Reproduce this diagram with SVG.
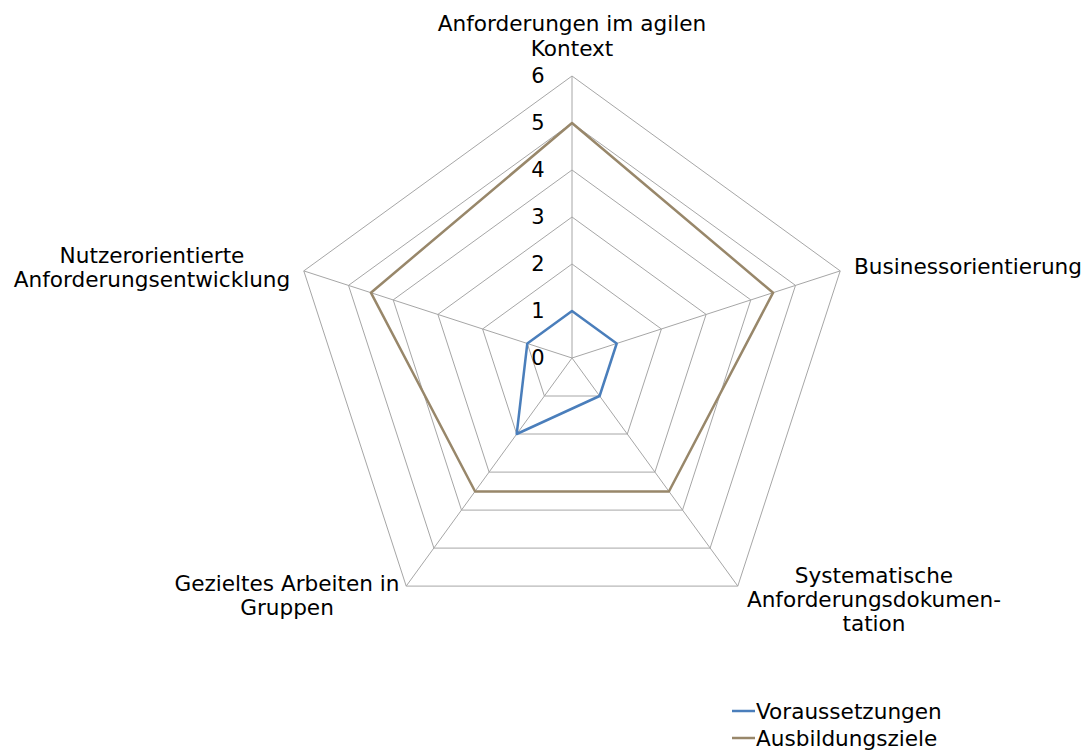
<svg xmlns="http://www.w3.org/2000/svg" width="1084" height="753" viewBox="0 0 1084 753">
<style>
text{font-family:"DejaVu Sans","Liberation Sans",sans-serif;font-size:21.6px;fill:#000}
.t{font-size:21px}
.grid{fill:none;stroke:#a6a6a6;stroke-width:1}
.s1{fill:none;stroke:#4a7ebb;stroke-width:2.5;stroke-linejoin:round}
.s2{fill:none;stroke:#98876a;stroke-width:2.5;stroke-linejoin:round}
.m{text-anchor:middle}
</style>
<rect width="1084" height="753" fill="#fff"/>
<g id="grid">
<polygon class="grid" points="572,311 616.7,343.5 599.6,396 544.4,396 527.3,343.5"/>
<polygon class="grid" points="572,264 661.4,329 627.3,434 516.7,434 482.6,329"/>
<polygon class="grid" points="572,217 706.1,314.4 654.9,472.1 489.1,472.1 437.9,314.4"/>
<polygon class="grid" points="572,170 750.8,299.9 682.5,510.1 461.5,510.1 393.2,299.9"/>
<polygon class="grid" points="572,123 795.5,285.4 710.1,548.1 433.9,548.1 348.5,285.4"/>
<polygon class="grid" points="572,76 840.2,270.9 737.8,586.1 406.2,586.1 303.8,270.9"/>
<path class="grid" d="M572,358L572,76M572,358L840.2,270.9M572,358L737.8,586.1M572,358L406.2,586.1M572,358L303.8,270.9"/>
</g>
<g id="ticks">
<text x="538" y="365" class="m t">0</text>
<text x="538" y="318" class="m t">1</text>
<text x="538" y="271" class="m t">2</text>
<text x="538" y="224" class="m t">3</text>
<text x="538" y="177" class="m t">4</text>
<text x="538" y="130" class="m t">5</text>
<text x="538" y="83" class="m t">6</text>
</g>
<g id="series">
<polygon id="voraussetzungen" class="s1" points="572,311 616.7,343.5 599.6,396 516.7,434 527.3,343.5"/>
<polygon id="ausbildungsziele" class="s2" points="572,123 773.1,292.7 668.9,491.5 475.1,491.5 370.9,292.7"/>
</g>
<g id="label-top"><text x="572" y="31" class="m">Anforderungen im agilen</text><text x="572" y="56" class="m">Kontext</text></g>
<g id="label-right"><text x="854" y="274">Businessorientierung</text></g>
<g id="label-bottom-right"><text x="874" y="583" class="m">Systematische</text><text x="874" y="607" class="m">Anforderungsdokumen-</text><text x="874" y="631" class="m">tation</text></g>
<g id="label-bottom-left"><text x="287" y="591" class="m">Gezieltes Arbeiten in</text><text x="287" y="615" class="m">Gruppen</text></g>
<g id="label-left"><text x="152" y="263" class="m">Nutzerorientierte</text><text x="152" y="287" class="m">Anforderungsentwicklung</text></g>
<g id="legend">
<line x1="732" y1="711" x2="755" y2="711" stroke="#4a7ebb" stroke-width="2.5"/>
<text x="756" y="719">Voraussetzungen</text>
<line x1="732" y1="738" x2="755" y2="738" stroke="#98876a" stroke-width="2.5"/>
<text x="756" y="746">Ausbildungsziele</text>
</g>
</svg>
